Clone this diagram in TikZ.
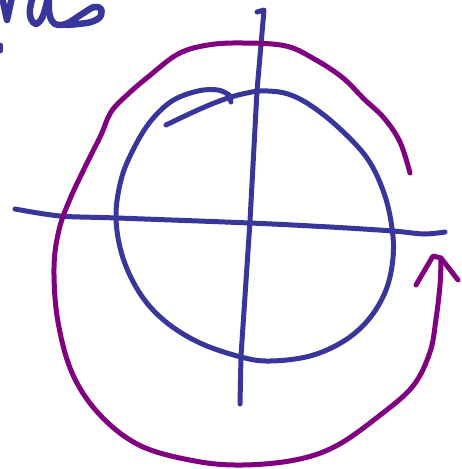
\documentclass[tikz,border=0pt]{standalone}
\begin{document}
\begin{tikzpicture}[x=1pt,y=-1pt,
  ink/.style={line width=5pt,line cap=round,line join=round},
  blueink/.style={ink,draw=inkblue},
  purpleink/.style={ink,draw=inkpurple},
  penink/.style={blueink,line width=6.5pt}]
\definecolor{inkblue}{RGB}{56,54,154}
\definecolor{inkpurple}{RGB}{128,0,128}
\useasboundingbox (0,0) rectangle (461,469);
% handwriting fragment (cropped at the picture edge)
\draw[penink] (2,-3) -- (7,20) -- (12,-3);
\draw[penink] plot[smooth,tension=0.6] coordinates {(33,-4) (30,9) (31,19) (36,24) (42,18) (46,6) (48,-4)};
\draw[penink] plot[smooth,tension=0.6] coordinates {(49,-4) (49,11) (52,21) (58,25) (68,23) (82,14) (94,7) (101,9) (100,17) (91,22) (78,24) (66,25)};
\draw[blueink] (0,45) -- (0,51);
% axes
\coordinate (vt) at (264,10);
\coordinate (vb) at (240,404);
\draw[blueink] (257,12) -- (vt) -- (257,91) -- (250,221) -- (241,356) -- (vb);
\coordinate (hl) at (15,209);
\coordinate (hr) at (445,232);
\draw[blueink] plot[smooth,tension=0.5] coordinates {(hl) (60,216) (117,218) (250,223) (330,227) (393,231) (424,234) (hr)};
% blue circle with overlapping start
\draw[blueink] plot[smooth,tension=0.6] coordinates {(166,125) (200,109) (228,98) (252,92) (268,91) (288,94) (310,105) (338,127) (367,158) (384,193) (392,228) (393,258) (386,290) (369,319) (344,341) (310,356) (270,361) (241,357) (200,343) (166,322) (141,295) (123,258) (116,218) (121,180) (133,150) (150,122) (172,101) (198,91) (218,90) (229,95)};
\draw[blueink] (229,95) -- (231,102);
% purple arrow around
\draw[purpleink] plot[smooth,tension=0.6] coordinates {(410,173) (400,142) (384,118) (364,99) (343,78) (316,60) (286,46) (243,43) (208,45) (178,54) (148,77) (127,95) (111,112) (101,135) (87,163) (70,199) (59,230) (54,268) (58,322) (73,375) (101,416) (141,446) (195,461) (242,465) (295,460) (336,446) (379,416) (413,386) (430,352) (436,319) (440,285) (441,259)};
\draw[purpleink] (416,285) -- (433,256) -- (441,258) -- (458,280);
\end{tikzpicture}
\end{document}
